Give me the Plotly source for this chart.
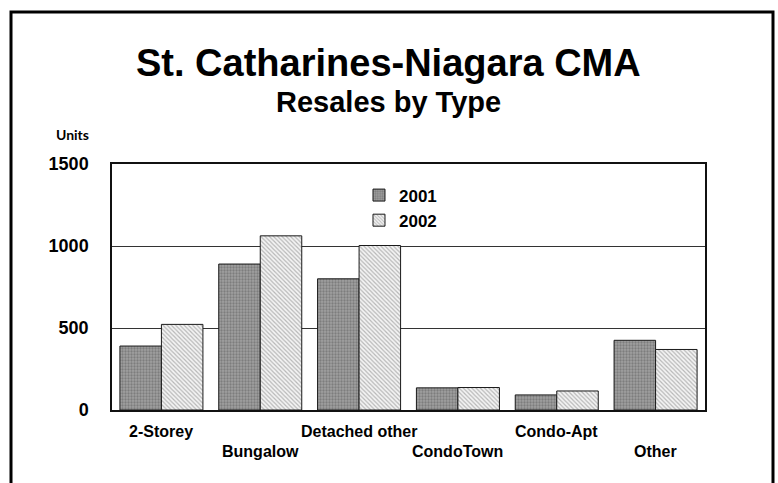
import plotly.graph_objects as go

categories = ["2-Storey", "Bungalow", "Detached other", "CondoTown", "Condo-Apt", "Other"]
series_names = ["2001", "2002"]
values_2001 = [390, 890, 800, 135, 92, 425]
values_2002 = [522, 1062, 1003, 137, 116, 369]
y_ticks = [0, 500, 1000, 1500]

title_text = "St. Catharines-Niagara CMA"
subtitle_text = "Resales by Type"
units_text = "Units"

fig = go.Figure()
fig.add_trace(go.Bar(
    x=categories, y=values_2001, name="<b>%s</b>" % series_names[0],
    marker=dict(color="#9a9a9a", line=dict(color="#1a1a1a", width=1),
                pattern=dict(shape=".", fgcolor="#5a5a5a", bgcolor="#a0a0a0", size=3, solidity=0.45)),
))
fig.add_trace(go.Bar(
    x=categories, y=values_2002, name="<b>%s</b>" % series_names[1],
    marker=dict(color="#d8d8d8", line=dict(color="#1a1a1a", width=1),
                pattern=dict(shape="\\", fgcolor="#7a7a7a", bgcolor="#f4f4f4", size=3, solidity=0.4)),
))

annotations = [
    dict(text="<b>%s</b>" % title_text, x=0.4663, y=1.41, xref="paper", yref="paper",
         showarrow=False, xanchor="center", yanchor="middle",
         font=dict(family="Liberation Sans", size=38, color="black")),
    dict(text="<b>%s</b>" % subtitle_text, x=0.4663, y=1.252, xref="paper", yref="paper",
         showarrow=False, xanchor="center", yanchor="middle",
         font=dict(family="Liberation Sans", size=29, color="black")),
    dict(text="<b>%s</b>" % units_text, x=-0.0658, y=1.118, xref="paper", yref="paper",
         showarrow=False, xanchor="center", yanchor="middle",
         font=dict(family="Lato", size=14, color="black")),
]
for i, c in enumerate(categories):
    annotations.append(dict(
        text="<b>%s</b>" % c, x=c, xref="x", y=(-0.0894 if i % 2 == 0 else -0.1707), yref="paper",
        showarrow=False, xanchor="center", yanchor="middle",
        font=dict(family="Liberation Sans", size=16, color="black")))

fig.update_layout(
    width=778, height=483,
    margin=dict(l=112, r=73, t=164, b=73),
    paper_bgcolor="white", plot_bgcolor="white",
    barmode="group", bargap=0.16, bargroupgap=0,
    showlegend=True,
    legend=dict(x=0.4165, y=0.945, xanchor="left", yanchor="top",
                bgcolor="rgba(0,0,0,0)", borderwidth=0,
                font=dict(family="Liberation Sans", size=17, color="black"),
                tracegroupgap=2),
    annotations=annotations,
    shapes=[dict(type="rect", xref="paper", yref="paper",
                 x0=-0.17032, x1=1.11467, y0=-0.40, y1=1.61789,
                 line=dict(color="black", width=3), layer="below")],
    xaxis=dict(showticklabels=False, showline=True, mirror=True, linecolor="#111",
               linewidth=1.5, showgrid=False, ticks=""),
    yaxis=dict(range=[0, 1500], tickvals=y_ticks, ticktext=["<b>%d</b>" % v for v in y_ticks],
               tickfont=dict(family="Liberation Sans", size=18, color="black"),
               ticklabelstandoff=18,
               showline=True, mirror=True, linecolor="#111", linewidth=1.5,
               showgrid=True, gridcolor="#333", gridwidth=1, zeroline=False, ticks=""),
)
fig.write_html("out.html")
